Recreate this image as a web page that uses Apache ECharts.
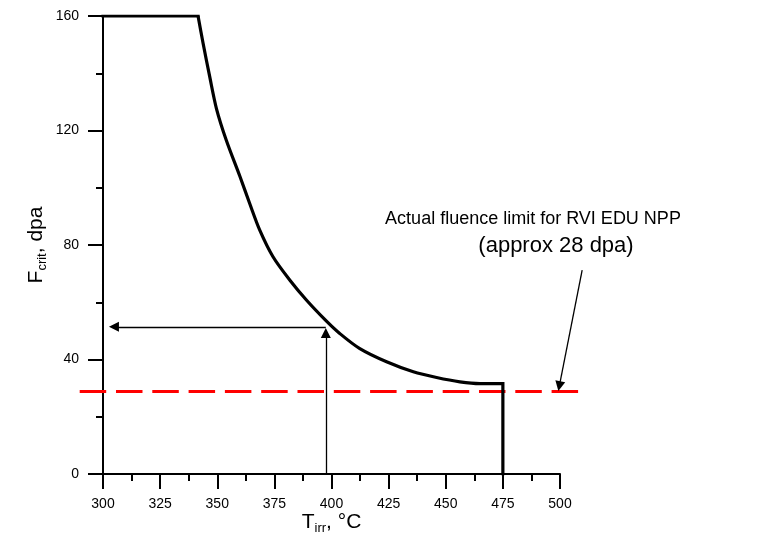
<!DOCTYPE html>
<html><head><meta charset="utf-8">
<script src="https://cdn.jsdelivr.net/npm/echarts@6/dist/echarts.min.js"></script>
<style>html,body{margin:0;padding:0;background:#fff}#c{width:770px;height:535px}</style>
</head><body><div id="c"></div>
<script>
// Critical fluence curve F_crit (dpa) vs irradiation temperature T_irr (°C)
const curveT = [300, 341.6, 343.8, 346.7, 349.7, 354.0, 359.9, 364.2, 368.6, 374.4, 381.8, 389.1, 397.8, 403.6, 412.4, 424.1, 435.8, 446.0, 456.2, 465.0, 475, 475];
const curveF = [160, 160, 150.5, 138.8, 127.5, 116.5, 104.0, 94.5, 85.2, 75.9, 67.7, 60.7, 53.4, 49.1, 43.8, 39.2, 35.7, 33.7, 32.2, 31.6, 31.6, 0];
// Actual fluence limit line (approx 28 dpa)
const limitT = [289.8, 508.8];
const limitF = [29, 29];
// Arrows: [fromT, fromF, toT, toF]
const arrowUp = [397.5, 0, 397.5, 49.3];
const arrowLeft = [397.5, 51.4, 304.8, 51.4];
const arrowNote = [509.7, 71.2, 499.7, 30.7];
const xTicks = {min: 300, max: 500, interval: 25};
const yTicks = {min: 0, max: 160, interval: 40};
const noteLine1 = 'Actual fluence limit for RVI EDU NPP';
const noteLine2 = '(approx 28 dpa)';

const FONT = 'Liberation Sans, Arial, sans-serif';
const chart = echarts.init(document.getElementById('c'), null, {renderer: 'canvas'});
const axisCommon = {
  axisLine: {show: true, onZero: false, lineStyle: {color: '#000', width: 2}},
  axisTick: {show: true, inside: false, length: 15, lineStyle: {color: '#000', width: 2}},
  minorTick: {show: true, splitNumber: 2, length: 7, lineStyle: {color: '#000', width: 2}},
  splitLine: {show: false},
  minorSplitLine: {show: false},
  nameMoveOverlap: false
};
const seg = a => ({coords: [[a[0], a[1]], [a[2], a[3]]]});
const pts = (a, b) => curveT.slice(a, b).map((t, i) => [t, curveF[a + i]]);
const n = curveT.length;

chart.setOption({
  animation: false,
  backgroundColor: '#fff',
  grid: {left: 103, right: 210, top: 16, bottom: 61, containLabel: false, outerBoundsMode: 'none'},
  xAxis: Object.assign({
    type: 'value', min: xTicks.min, max: xTicks.max, interval: xTicks.interval,
    name: '{a|T}{b|irr}{a|, °C}', nameLocation: 'middle', nameGap: 35,
    nameTextStyle: {rich: {
      a: {fontFamily: FONT, fontSize: 21, color: '#000', lineHeight: 26, verticalAlign: 'middle'},
      b: {fontFamily: FONT, fontSize: 13, color: '#000', lineHeight: 13, verticalAlign: 'bottom'}
    }},
    axisLabel: {fontFamily: FONT, fontSize: 14, color: '#000', margin: 23}
  }, axisCommon),
  yAxis: Object.assign({
    type: 'value', min: yTicks.min, max: yTicks.max, interval: yTicks.interval,
    name: '{a|F}{b|crit}{a|, dpa}', nameLocation: 'middle', nameGap: 54, nameRotate: 90,
    nameTextStyle: {rich: {
      a: {fontFamily: FONT, fontSize: 21, color: '#000', lineHeight: 26, verticalAlign: 'middle'},
      b: {fontFamily: FONT, fontSize: 13, color: '#000', lineHeight: 13, verticalAlign: 'bottom'}
    }},
    axisLabel: {fontFamily: FONT, fontSize: 14, color: '#000', margin: 24}
  }, axisCommon),
  series: [
    { // flat plateau
      type: 'line', data: pts(0, 2), showSymbol: false, symbol: 'none', z: 4,
      lineStyle: {color: '#000', width: 3.2, cap: 'square'}
    },
    { // decaying part
      type: 'line', data: pts(1, n - 1), showSymbol: false, symbol: 'none', z: 4,
      smooth: 0.3,
      lineStyle: {color: '#000', width: 3.2, join: 'round'}
    },
    { // cut-off at 475
      type: 'line', data: pts(n - 2, n), showSymbol: false, symbol: 'none', z: 4,
      lineStyle: {color: '#000', width: 3.2, cap: 'square'}
    },
    {
      type: 'lines', coordinateSystem: 'cartesian2d', clip: false, z: 3,
      symbol: 'none',
      lineStyle: {color: '#ff0000', width: 3, opacity: 1, type: [26.5, 9.8], curveness: 0},
      data: [{coords: limitT.map((t, i) => [t, limitF[i]])}]
    },
    {
      type: 'lines', coordinateSystem: 'cartesian2d', clip: false, z: 5,
      symbol: ['none', 'triangle'], symbolSize: [0, 10],
      lineStyle: {color: '#000', width: 1.3, opacity: 1, curveness: 0},
      data: [seg(arrowUp), seg(arrowLeft), seg(arrowNote)]
    }
  ],
  graphic: [
    {type: 'text', z: 10, position: [533, 219], style: {text: noteLine1, x: 0, y: 0, fill: '#000', font: '18px ' + FONT, textAlign: 'center', textVerticalAlign: 'middle'}},
    {type: 'text', z: 10, position: [556, 246], style: {text: noteLine2, x: 0, y: 0, fill: '#000', font: '22px ' + FONT, textAlign: 'center', textVerticalAlign: 'middle'}}
  ]
});
</script></body></html>
